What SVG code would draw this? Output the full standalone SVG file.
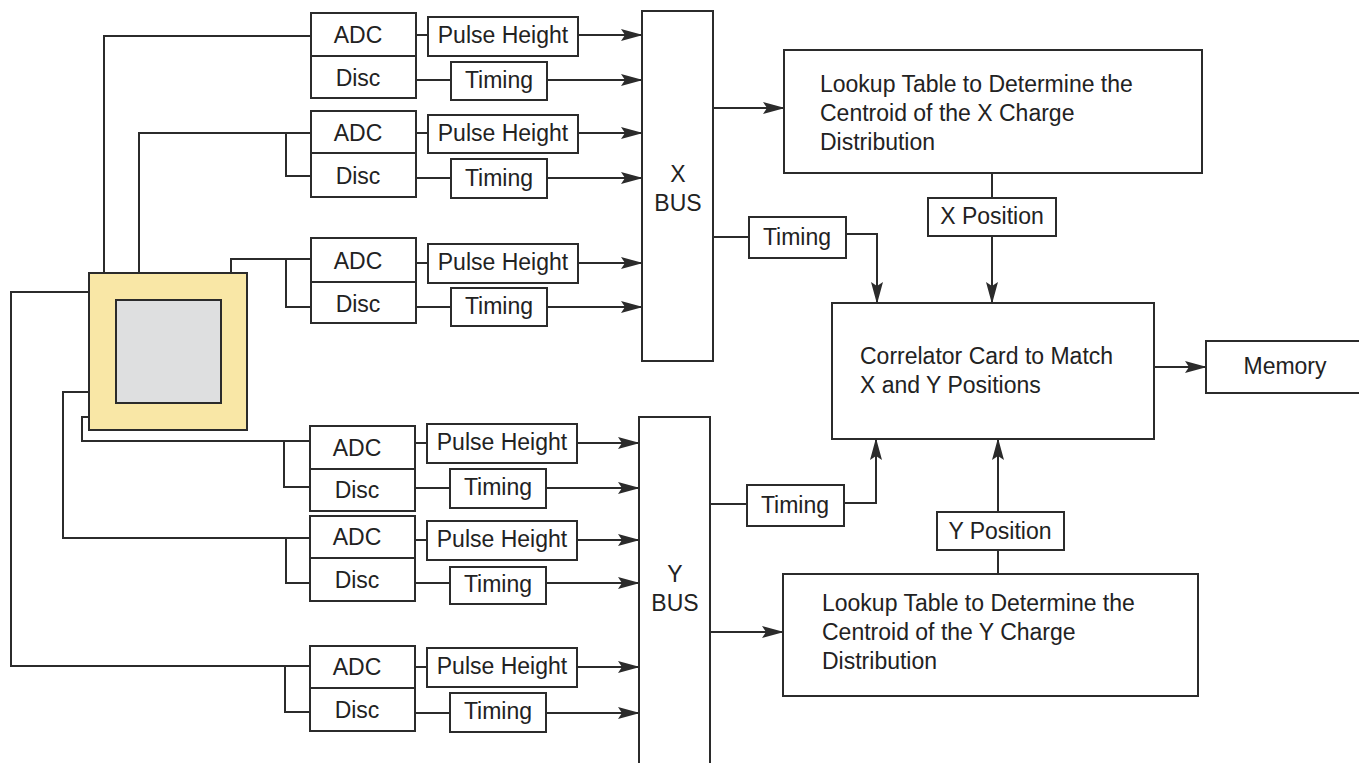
<svg xmlns="http://www.w3.org/2000/svg" width="1359" height="763" viewBox="0 0 1359 763">
<defs>
<marker id="ah" markerWidth="22" markerHeight="14" refX="21" refY="7" orient="auto" markerUnits="userSpaceOnUse">
<path d="M0,1 L22,7 L0,13 L4,7 Z" fill="#2b2b2b"/>
</marker>
<style>
.b{fill:#fff;stroke:#2b2b2b;stroke-width:2}
.l{fill:none;stroke:#2b2b2b;stroke-width:2}
.a{fill:none;stroke:#2b2b2b;stroke-width:2;marker-end:url(#ah)}
text{font-family:"Liberation Sans",Arial,sans-serif;font-size:23px;fill:#222}
.c{text-anchor:middle}
</style>
</defs>
<rect width="1359" height="763" fill="#fff"/>

<g id="connectors">
<polyline class="l" points="104,273 104,36 311,36"/>
<polyline class="l" points="139,273 139,133 311,133"/>
<polyline class="l" points="286,133 286,176 311,176"/>
<polyline class="l" points="231,273 231,259 311,259"/>
<polyline class="l" points="286,259 286,307 311,307"/>
<polyline class="l" points="89,292 11,292 11,666 311,666"/>
<polyline class="l" points="285,666 285,712 311,712"/>
<polyline class="l" points="89,392 63,392 63,538 311,538"/>
<polyline class="l" points="286,538 286,583 311,583"/>
<polyline class="l" points="89,417 82,417 82,441 311,441"/>
<polyline class="l" points="284,441 284,487 311,487"/>
<line class="l" x1="416" y1="35" x2="428" y2="35"/>
<line class="l" x1="416" y1="80" x2="451" y2="80"/>
<line class="l" x1="416" y1="133" x2="428" y2="133"/>
<line class="l" x1="416" y1="178" x2="451" y2="178"/>
<line class="l" x1="416" y1="263" x2="428" y2="263"/>
<line class="l" x1="416" y1="307" x2="451" y2="307"/>
<line class="l" x1="415" y1="443" x2="427" y2="443"/>
<line class="l" x1="415" y1="488" x2="450" y2="488"/>
<line class="l" x1="415" y1="540" x2="427" y2="540"/>
<line class="l" x1="415" y1="583" x2="450" y2="583"/>
<line class="l" x1="415" y1="667" x2="427" y2="667"/>
<line class="l" x1="415" y1="713" x2="450" y2="713"/>
<line class="a" x1="578" y1="35" x2="642" y2="35"/>
<line class="a" x1="547" y1="80" x2="642" y2="80"/>
<line class="a" x1="578" y1="133" x2="642" y2="133"/>
<line class="a" x1="547" y1="178" x2="642" y2="178"/>
<line class="a" x1="578" y1="263" x2="642" y2="263"/>
<line class="a" x1="547" y1="307" x2="642" y2="307"/>
<line class="a" x1="577" y1="443" x2="639" y2="443"/>
<line class="a" x1="546" y1="488" x2="639" y2="488"/>
<line class="a" x1="577" y1="540" x2="639" y2="540"/>
<line class="a" x1="546" y1="583" x2="639" y2="583"/>
<line class="a" x1="577" y1="667" x2="639" y2="667"/>
<line class="a" x1="546" y1="713" x2="639" y2="713"/>
<line class="a" x1="713" y1="108" x2="784" y2="108"/>
<line class="l" x1="713" y1="237" x2="749" y2="237"/>
<polyline class="a" points="846,234 877,234 877,303"/>
<line class="l" x1="992" y1="173" x2="992" y2="198"/>
<line class="a" x1="992" y1="236" x2="992" y2="303"/>
<line class="l" x1="710" y1="504" x2="747" y2="504"/>
<polyline class="a" points="844,503 876,503 876,439"/>
<line class="a" x1="710" y1="632" x2="783" y2="632"/>
<line class="l" x1="998" y1="550" x2="998" y2="574"/>
<line class="a" x1="998" y1="512" x2="998" y2="439"/>
<line class="a" x1="1154" y1="367" x2="1206" y2="367"/>
</g>

<g id="detector">
<rect x="89" y="273" width="158" height="157" fill="#f9e7a6" stroke="#2b2b2b" stroke-width="2"/>
<rect x="116" y="300" width="105" height="103" fill="#dedfe0" stroke="#2b2b2b" stroke-width="2"/>
</g>

<g id="adc1"><rect class="b" x="311" y="13" width="105" height="43"/><text class="c" x="358" y="43">ADC</text></g>
<g id="disc1"><rect class="b" x="311" y="56" width="105" height="42"/><text class="c" x="358" y="86">Disc</text></g>
<g id="adc2"><rect class="b" x="311" y="111" width="105" height="42"/><text class="c" x="358" y="141">ADC</text></g>
<g id="disc2"><rect class="b" x="311" y="153" width="105" height="44"/><text class="c" x="358" y="184">Disc</text></g>
<g id="adc3"><rect class="b" x="311" y="238" width="105" height="44"/><text class="c" x="358" y="269">ADC</text></g>
<g id="disc3"><rect class="b" x="311" y="282" width="105" height="41"/><text class="c" x="358" y="312">Disc</text></g>
<g id="adc4"><rect class="b" x="310" y="426" width="105" height="43"/><text class="c" x="357" y="456">ADC</text></g>
<g id="disc4"><rect class="b" x="310" y="469" width="105" height="42"/><text class="c" x="357" y="498">Disc</text></g>
<g id="adc5"><rect class="b" x="310" y="516" width="105" height="42"/><text class="c" x="357" y="545">ADC</text></g>
<g id="disc5"><rect class="b" x="310" y="558" width="105" height="43"/><text class="c" x="357" y="588">Disc</text></g>
<g id="adc6"><rect class="b" x="310" y="646" width="105" height="42"/><text class="c" x="357" y="675">ADC</text></g>
<g id="disc6"><rect class="b" x="310" y="688" width="105" height="43"/><text class="c" x="357" y="718">Disc</text></g>

<g id="ph1"><rect class="b" x="428" y="17" width="150" height="39"/><text class="c" x="503" y="43">Pulse Height</text></g>
<g id="tm1"><rect class="b" x="451" y="62" width="96" height="38"/><text class="c" x="499" y="88">Timing</text></g>
<g id="ph2"><rect class="b" x="428" y="115" width="150" height="38"/><text class="c" x="503" y="141">Pulse Height</text></g>
<g id="tm2"><rect class="b" x="451" y="159" width="96" height="39"/><text class="c" x="499" y="186">Timing</text></g>
<g id="ph3"><rect class="b" x="428" y="244" width="150" height="39"/><text class="c" x="503" y="270">Pulse Height</text></g>
<g id="tm3"><rect class="b" x="451" y="288" width="96" height="38"/><text class="c" x="499" y="314">Timing</text></g>
<g id="ph4"><rect class="b" x="427" y="424" width="150" height="39"/><text class="c" x="502" y="450">Pulse Height</text></g>
<g id="tm4"><rect class="b" x="450" y="469" width="96" height="39"/><text class="c" x="498" y="495">Timing</text></g>
<g id="ph5"><rect class="b" x="427" y="521" width="150" height="39"/><text class="c" x="502" y="547">Pulse Height</text></g>
<g id="tm5"><rect class="b" x="450" y="567" width="96" height="37"/><text class="c" x="498" y="592">Timing</text></g>
<g id="ph6"><rect class="b" x="427" y="648" width="150" height="39"/><text class="c" x="502" y="674">Pulse Height</text></g>
<g id="tm6"><rect class="b" x="450" y="693" width="96" height="39"/><text class="c" x="498" y="719">Timing</text></g>

<g id="xbus"><rect class="b" x="642" y="11" width="71" height="350"/><text class="c" x="678" y="182">X</text><text class="c" x="678" y="211">BUS</text></g>
<g id="ybus"><rect class="b" x="639" y="417" width="71" height="360"/><text class="c" x="675" y="582">Y</text><text class="c" x="675" y="611">BUS</text></g>

<g id="lookupx"><rect class="b" x="784" y="50" width="418" height="123"/>
<text x="820" y="92">Lookup Table to Determine the</text>
<text x="820" y="121">Centroid of the X Charge</text>
<text x="820" y="150">Distribution</text></g>
<g id="timingx"><rect class="b" x="749" y="217" width="97" height="41"/><text class="c" x="797" y="245">Timing</text></g>
<g id="xpos"><rect class="b" x="928" y="198" width="128" height="38"/><text class="c" x="992" y="224">X Position</text></g>
<g id="correlator"><rect class="b" x="832" y="303" width="322" height="136"/>
<text x="860" y="364">Correlator Card to Match</text>
<text x="860" y="393">X and Y Positions</text></g>
<g id="memory"><rect class="b" x="1206" y="341" width="160" height="52"/><text class="c" x="1285" y="374">Memory</text></g>
<g id="timingy"><rect class="b" x="747" y="485" width="97" height="41"/><text class="c" x="795" y="513">Timing</text></g>
<g id="ypos"><rect class="b" x="937" y="512" width="127" height="38"/><text class="c" x="1000" y="539">Y Position</text></g>
<g id="lookupy"><rect class="b" x="783" y="574" width="415" height="122"/>
<text x="822" y="611">Lookup Table to Determine the</text>
<text x="822" y="640">Centroid of the Y Charge</text>
<text x="822" y="669">Distribution</text></g>
</svg>
